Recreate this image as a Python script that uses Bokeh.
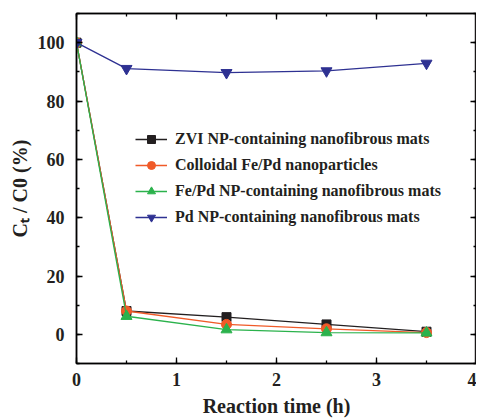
from bokeh.plotting import figure
from bokeh.models import (LinearAxis, SingleIntervalTicker, Range1d, Legend, LegendItem,
                          CustomJSTickFormatter)
from bokeh.embed import file_html
from bokeh.resources import INLINE

time_h = [0, 0.5, 1.5, 2.5, 3.5]
zvi = [100, 8.0, 5.9, 3.4, 0.9]
colloidal = [100, 8.0, 3.4, 1.9, 0.6]
fepd = [100, 6.2, 1.6, 0.6, 0.5]
pd = [100, 91.1, 89.7, 90.3, 92.9]

names = ["ZVI NP-containing nanofibrous mats",
         "Colloidal Fe/Pd nanoparticles",
         "Fe/Pd NP-containing nanofibrous mats",
         "Pd NP-containing nanofibrous mats"]
colors = ["#231f20", "#f05a28", "#2bb24c", "#2e3192"]
markers = ["square", "circle", "triangle", "inverted_triangle"]
sizes = [9, 10, 11, 11]
series = [zvi, colloidal, fepd, pd]

FONT = "Liberation Serif"

p = figure(frame_width=400, frame_height=350, output_backend="svg", toolbar_location=None,
           x_range=Range1d(0, 4), y_range=Range1d(-10, 110),
           min_border_left=76, min_border_right=0, min_border_top=13, min_border_bottom=50,
           x_axis_label="Reaction time (h)", y_axis_label="Cₜ / C0 (%)")
p.xgrid.visible = False
p.ygrid.visible = False
p.outline_line_color = "#231f20"
p.outline_line_width = 1.5
p.background_fill_color = "white"
p.border_fill_color = "white"

p.xaxis.ticker = SingleIntervalTicker(interval=1, num_minor_ticks=2)
p.yaxis.ticker = SingleIntervalTicker(interval=20, num_minor_ticks=2)

for ax in [p.xaxis[0], p.yaxis[0]]:
    ax.major_tick_in = 6
    ax.major_tick_out = 0
    ax.minor_tick_in = 3
    ax.minor_tick_out = 0
    ax.axis_line_width = 1.5
    ax.major_tick_line_width = 1.3
    ax.minor_tick_line_width = 1.3
    ax.major_label_text_font = FONT
    ax.major_label_text_font_style = "bold"
    ax.major_label_text_font_size = "18px"
    ax.major_label_text_color = "#231f20"
    ax.axis_label_text_font = FONT
    ax.axis_label_text_font_style = "bold"
    ax.axis_label_text_font_size = "20px"
    ax.axis_label_text_color = "#231f20"

p.xaxis.major_label_standoff = 9
p.yaxis.major_label_standoff = 12
p.yaxis.axis_label_standoff = 4
p.xaxis.axis_label_standoff = 6

top = LinearAxis(ticker=SingleIntervalTicker(interval=1, num_minor_ticks=2),
                 formatter=CustomJSTickFormatter(code="return ''"))
right = LinearAxis(ticker=SingleIntervalTicker(interval=20, num_minor_ticks=2),
                   formatter=CustomJSTickFormatter(code="return ''"))
for ax in [top, right]:
    ax.major_tick_in = 6
    ax.major_tick_out = 0
    ax.minor_tick_in = 3
    ax.minor_tick_out = 0
    ax.axis_line_width = 1.5
    ax.major_tick_line_width = 1.3
    ax.minor_tick_line_width = 1.3
    ax.major_label_standoff = 0
p.add_layout(top, "above")
p.add_layout(right, "right")

items = []
for name, c, m, s, ys in zip(names, colors, markers, sizes, series):
    r1 = p.line(time_h, ys, line_color=c, line_width=1.3)
    r2 = p.scatter(time_h, ys, marker=m, size=s, fill_color=c, line_color=c)
    items.append(LegendItem(label=name, renderers=[r1, r2]))

legend = Legend(items=items, location=(59, 136))
legend.glyph_width = 32
legend.glyph_height = 20
legend.spacing = 6
legend.label_text_font = FONT
legend.label_text_font_style = "bold"
legend.label_text_font_size = "16px"
legend.label_text_color = "#231f20"
legend.border_line_color = None
legend.background_fill_alpha = 0
legend.label_standoff = 8
p.add_layout(legend, "center")

open("out.html", "w").write(file_html(p, INLINE))
